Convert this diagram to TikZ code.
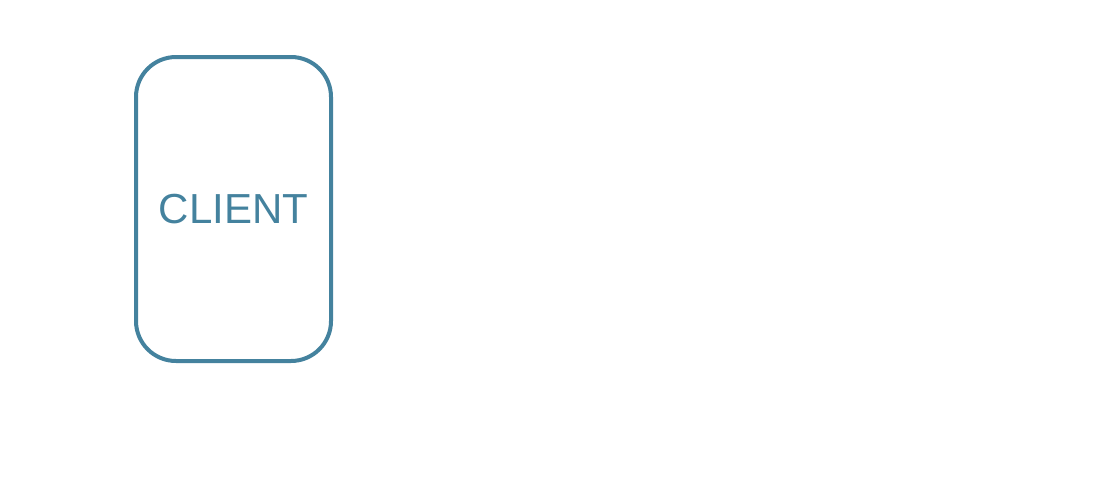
\documentclass[tikz,border=0pt]{standalone}
\usepackage{fontspec}
\setmainfont{Liberation Sans}
\usepackage{tikz}
\usetikzlibrary{positioning}

\definecolor{clientblue}{RGB}{68,130,158}

\begin{document}
\begin{tikzpicture}[x=1pt, y=-1pt,
  box/.style={draw=clientblue, line width=4pt, rounded corners=40pt,
    minimum width=195pt, minimum height=304pt, text=clientblue,
    font=\fontsize{42}{48}\selectfont, inner sep=0pt}]

  \useasboundingbox (0,0) rectangle (1100,480);

  \node[box] (client) at (233.5,209) {CLIENT};

\end{tikzpicture}
\end{document}
